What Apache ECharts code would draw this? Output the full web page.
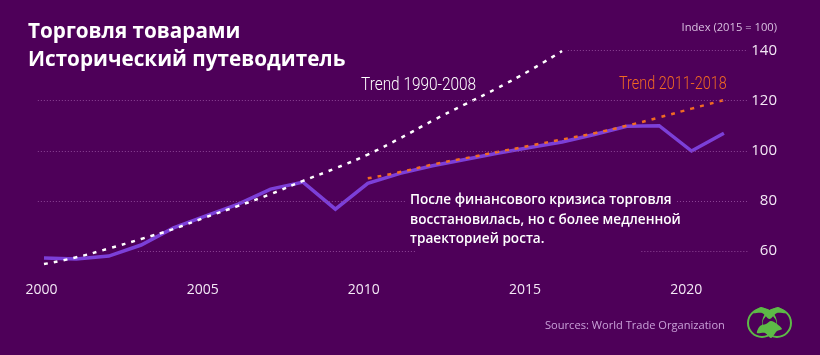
<!DOCTYPE html>
<html>
<head>
<meta charset="utf-8">
<style>
  html, body { margin: 0; padding: 0; background: #4e0059; }
  #chart { width: 820px; height: 355px; }
</style>
<script src="https://cdn.jsdelivr.net/npm/echarts@6/dist/echarts.min.js"></script>
</head>
<body>
<div id="chart"></div>
<script>
const years = [2000, 2001, 2002, 2003, 2004, 2005, 2006, 2007, 2008, 2009, 2010,
  2011, 2012, 2013, 2014, 2015, 2016, 2017, 2018, 2019, 2020, 2021];
const tradeIndex = [57.2, 56.8, 58, 62.4, 69.2, 74, 78.7, 84.7, 87.5, 76.7, 87,
  91, 94, 96.5, 99, 101.3, 103.5, 106.5, 109.8, 110, 99.9, 107];
const trend1990 = [54.8, 57.5, 61, 64.8, 68.8, 73.5, 78, 82.7, 88, 93, 98.5,
  105, 112, 118.5, 125, 132, 139.8];
const trend2011 = [89, 91.5, 94.5, 97, 99.5, 102, 104.5, 107, 110, 113.3, 116.8, 120.2];
const trend2011Start = 2010;

const yTicks = [60, 80, 100, 120, 140];
const xTicks = [2000, 2005, 2010, 2015, 2020];
// [value, from, to]: the dotted rules stop around the title and the note
const ruleSegments = [
  [140, 2016.18, 2021.74],
  [120, 1999.81, 2021.74],
  [100, 1999.81, 2021.74],
  [80, 1999.81, 2011.15],
  [80, 2019.55, 2021.74],
  [60, 2002.9, 2011.46],
  [60, 2018.45, 2021.74]
];

const titleLines = ['Торговля товарами', 'Исторический путеводитель'];
const noteLines = ['После финансового кризиса торговля', 'восстановилась, но с более медленной', 'траекторией роста.'];

const bg = '#4e0059';
const green = '#5dba47';
const font = '"Open Sans", "Noto Sans", sans-serif';

function text(x, y, str, size, color, extra, scaleX) {
  return {
    type: 'text', x: x, y: y, scaleX: scaleX || 1, silent: true,
    style: Object.assign({
      text: str, fontSize: size, fill: color, fontFamily: font,
      textVerticalAlign: 'middle'
    }, extra || {})
  };
}

const chart = echarts.init(document.getElementById('chart'), null, { renderer: 'canvas' });
chart.setOption({
  animation: false,
  backgroundColor: bg,
  grid: { left: 30, right: 65, top: 50.5, bottom: 78.9 },
  xAxis: [
    // data scale
    { type: 'value', min: 1999.568, max: 2021.96, show: false },
    // tick labels sit slightly tighter than the data in the original
    {
      type: 'value', min: 1999.646, max: 2022.13, position: 'bottom',
      axisLine: { show: false }, axisTick: { show: false }, splitLine: { show: false },
      axisLabel: {
        customValues: xTicks, color: '#f4e8f6', fontSize: 14, fontFamily: font, margin: 7,
        formatter: v => String(v)
      }
    }
  ],
  yAxis: {
    type: 'value', min: 50, max: 140, position: 'right',
    axisLine: { show: false }, axisTick: { show: false }, splitLine: { show: false },
    axisLabel: {
      customValues: yTicks, color: '#f4e8f6', fontSize: 15, fontFamily: font,
      align: 'right', margin: 22, padding: [0, 0, 2, 0]
    }
  },
  series: [
    {
      type: 'line', data: [], silent: true, z: 1,
      markLine: {
        silent: true, symbol: 'none', label: { show: false }, animation: false,
        lineStyle: { color: '#8d4596', type: [1, 2], width: 1 },
        data: ruleSegments.map(s => [{ coord: [s[1], s[0]] }, { coord: [s[2], s[0]] }])
      }
    },
    {
      name: 'Trade', type: 'line', showSymbol: false, z: 2,
      lineStyle: { color: '#7c3fd8', width: 3.5, join: 'miter' },
      data: years.map((y, i) => [y, tradeIndex[i]])
    },
    {
      name: 'Trend 1990-2008', type: 'line', showSymbol: false, smooth: true, z: 3,
      lineStyle: { color: '#ffffff', width: 2.5, type: [4, 6] },
      data: trend1990.map((v, i) => [years[i], v])
    },
    {
      name: 'Trend 2011-2018', type: 'line', showSymbol: false, smooth: true, z: 3,
      lineStyle: { color: '#f26a22', width: 2.5, type: [4, 6] },
      data: trend2011.map((v, i) => [trend2011Start + i, v])
    }
  ],
  graphic: [
    text(28, 32, titleLines[0], 20.7, '#ffffff', { fontWeight: 700 }),
    text(28, 60, titleLines[1], 20.7, '#ffffff', { fontWeight: 700 }),
    text(777, 28, 'Index (2015 = 100)', 11.2, '#d9bfe0', { textAlign: 'right' }),
    text(361, 85, 'Trend 1990-2008', 18, '#ffffff', { fontFamily: 'Roboto', fontWeight: 300 }, 0.855),
    text(619, 84, 'Trend 2011-2018', 18, '#f26a22', { fontFamily: 'Roboto', fontWeight: 300 }, 0.8),
    text(410, 200, noteLines[0], 13.6, '#ffffff', { fontWeight: 600 }),
    text(410, 220, noteLines[1], 13.6, '#ffffff', { fontWeight: 600 }),
    text(410, 239, noteLines[2], 13.6, '#ffffff', { fontWeight: 600 }),
    text(545, 326, 'Sources: World Trade Organization', 11.1, '#c9a0d8'),
    // logo
    { type: 'ring', silent: true, shape: { cx: 762, cy: 323, r: 15, r0: 13 }, style: { fill: green } },
    { type: 'ring', silent: true, shape: { cx: 777, cy: 323, r: 15, r0: 13 }, style: { fill: green } },
    { type: 'circle', silent: true, shape: { cx: 769.5, cy: 323, r: 7 }, style: { fill: bg } },
    {
      type: 'polygon', silent: true,
      shape: { smooth: 0.3, points: [[753, 313], [761, 307], [769.5, 310], [778, 307], [786, 313], [777, 313], [769.5, 319], [762, 313]] },
      style: { fill: green }
    },
    {
      type: 'polygon', silent: true,
      shape: { smooth: 0.3, points: [[757, 333], [760, 326], [766, 324], [771, 321], [777, 324], [782, 329], [777, 331], [771, 338], [765, 333]] },
      style: { fill: green }
    }
  ]
});
</script>
</body>
</html>
